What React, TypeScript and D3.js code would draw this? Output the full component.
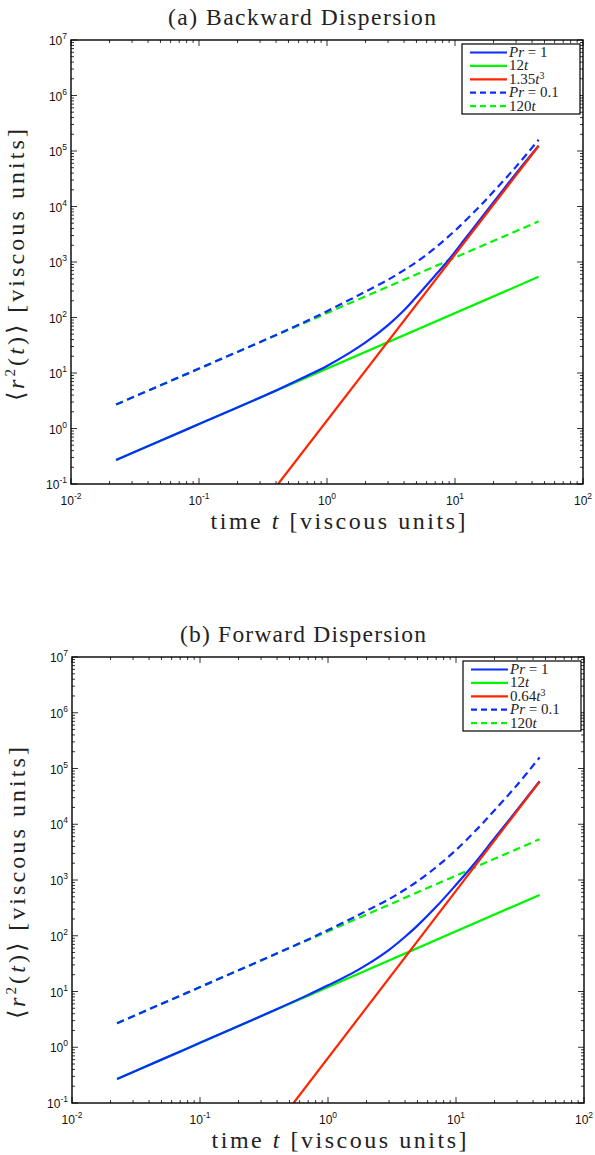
import React from 'react';
import * as d3 from 'd3';

const W = 595;
const H = 1155;

// axis domains
const xDomain = [0.01, 100];
const yDomain = [0.1, 1e7];
const xTickExps = [-2, -1, 0, 1, 2];
const yTickExps = [-1, 0, 1, 2, 3, 4, 5, 6, 7];

// reference power-law lines (endpoints, straight in log-log)
const line12t: [number, number][] = [[0.0225, 0.27], [45, 540]];
const line120t: [number, number][] = [[0.0225, 2.7], [45, 5400]];
const redA: [number, number][] = [[0.415, 0.1], [45, 123000]];
const redB: [number, number][] = [[0.538, 0.1], [45, 58300]];

// Pr = 1 (solid blue), panel a
const prOneTA = [0.0225, 0.05, 0.1, 0.2, 0.4, 0.7, 1, 1.5, 2, 3, 4, 5, 7, 9, 12, 16, 22, 30, 45];
const prOneVA = [0.27, 0.6, 1.2, 2.4, 4.85, 8.9, 13.4, 23, 35.5, 73, 135, 237, 570, 1120, 2620, 6150, 15800, 39500, 125000];
// Pr = 0.1 (dashed blue), panel a
const prTenthTA = [0.0225, 0.05, 0.1, 0.2, 0.4, 0.7, 1, 1.5, 2, 3, 4, 5, 7, 10, 15, 20, 30, 45];
const prTenthVA = [2.7, 6, 12, 24, 48.5, 87, 130, 208, 293, 480, 715, 1000, 1800, 3680, 9200, 18600, 52300, 159000];

// Pr = 1 (solid blue), panel b
const prOneTB = [0.0225, 0.05, 0.1, 0.2, 0.4, 0.7, 1, 1.5, 2, 3, 4, 5, 7, 10, 14, 20, 30, 45];
const prOneVB = [0.27, 0.6, 1.2, 2.4, 4.85, 8.7, 12.9, 20.5, 30, 56, 96, 152, 330, 820, 2000, 5600, 18000, 59000];
// Pr = 0.1 (dashed blue), panel b
const prTenthTB = [0.0225, 0.05, 0.1, 0.2, 0.4, 0.7, 1, 1.5, 2, 3, 4, 5, 7, 10, 15, 20, 30, 45];
const prTenthVB = [2.7, 6, 12, 24, 48.5, 86, 127, 200, 280, 455, 675, 945, 1700, 3450, 8700, 17800, 50500, 158000];

const BLUE = '#0b2dff';
const GREEN = '#00f500';
const RED = '#ff2400';
const DASH = '7.5 4.5';

type Pt = [number, number];
const zip = (t: number[], v: number[]): Pt[] => t.map((d, i) => [d, v[i]]);

interface PanelProps {
  left: number;
  right: number;
  top: number;
  bottom: number;
  title: string;
  titleY: number;
  redLabel: string;
  red: Pt[];
  prOne: Pt[];
  prTenth: Pt[];
  id: string;
}

function Panel(p: PanelProps) {
  const x = d3.scaleLog().domain(xDomain).range([p.left, p.right]);
  const y = d3.scaleLog().domain(yDomain).range([p.bottom, p.top]);
  const line = d3
    .line<Pt>()
    .x((d) => x(d[0]))
    .y((d) => y(d[1]))
    .curve(d3.curveCatmullRom.alpha(0.5));

  const xMinor: number[] = [];
  for (let e = -2; e < 2; e++) for (let m = 2; m <= 9; m++) xMinor.push(m * Math.pow(10, e));
  const yMinor: number[] = [];
  for (let e = -1; e < 7; e++) for (let m = 2; m <= 9; m++) yMinor.push(m * Math.pow(10, e));

  const majL = 6;
  const minL = 3;
  const tickStroke = { stroke: '#000', strokeWidth: 0.8 };

  const cy = (p.top + p.bottom) / 2;

  // legend geometry
  const lgL = p.right - 121;
  const lgR = p.right - 3;
  const lgT = p.top + 4;
  const lgH = 70;
  const rowH = 13.4;
  const rows = [
    { color: BLUE, dash: false, kind: 'pr1' },
    { color: GREEN, dash: false, kind: '12t' },
    { color: RED, dash: false, kind: 'red' },
    { color: BLUE, dash: true, kind: 'pr01' },
    { color: GREEN, dash: true, kind: '120t' },
  ];

  const legendText = (kind: string) => {
    if (kind === 'pr1')
      return (
        <>
          <tspan fontStyle="italic">Pr</tspan>
          <tspan> = 1</tspan>
        </>
      );
    if (kind === '12t')
      return (
        <>
          <tspan>12</tspan>
          <tspan fontStyle="italic">t</tspan>
        </>
      );
    if (kind === 'red')
      return (
        <>
          <tspan>{p.redLabel}</tspan>
          <tspan fontStyle="italic">t</tspan>
          <tspan dy={-5} fontSize={10}>3</tspan>
        </>
      );
    if (kind === 'pr01')
      return (
        <>
          <tspan fontStyle="italic">Pr</tspan>
          <tspan> = 0.1</tspan>
        </>
      );
    return (
      <>
        <tspan>120</tspan>
        <tspan fontStyle="italic">t</tspan>
      </>
    );
  };

  return (
    <g>
      <defs>
        <clipPath id={`clip-${p.id}`}>
          <rect x={p.left} y={p.top} width={p.right - p.left} height={p.bottom - p.top} />
        </clipPath>
      </defs>
      <text
        x={p.left + 231}
        y={p.titleY}
        textAnchor="middle"
        fontFamily="'Liberation Serif', serif"
        fontSize={23.5}
        fill="#222"
        textLength={p.id === 'a' ? 268 : 246}
        lengthAdjust="spacing"
      >
        {p.title}
      </text>

      {/* minor ticks */}
      {xMinor.map((v, i) => (
        <g key={`xm${i}`}>
          <line x1={x(v)} x2={x(v)} y1={p.bottom} y2={p.bottom - minL} {...tickStroke} />
          <line x1={x(v)} x2={x(v)} y1={p.top} y2={p.top + minL} {...tickStroke} />
        </g>
      ))}
      {yMinor.map((v, i) => (
        <g key={`ym${i}`}>
          <line x1={p.left} x2={p.left + minL} y1={y(v)} y2={y(v)} {...tickStroke} />
          <line x1={p.right} x2={p.right - minL} y1={y(v)} y2={y(v)} {...tickStroke} />
        </g>
      ))}
      {/* major ticks */}
      {xTickExps.map((e) => {
        const v = Math.pow(10, e);
        return (
          <g key={`xM${e}`}>
            <line x1={x(v)} x2={x(v)} y1={p.bottom} y2={p.bottom - majL} {...tickStroke} />
            <line x1={x(v)} x2={x(v)} y1={p.top} y2={p.top + majL} {...tickStroke} />
            <text
              x={x(v)}
              y={p.bottom + 21}
              textAnchor="middle"
              fontFamily="'Liberation Sans', Arial, sans-serif"
              fontSize={12}
              fill="#111"
            >
              10
              <tspan dy={-6} fontSize={8.5}>
                {e < 0 ? `-${-e}` : `${e}`}
              </tspan>
            </text>
          </g>
        );
      })}
      {yTickExps.map((e) => {
        const v = Math.pow(10, e);
        return (
          <g key={`yM${e}`}>
            <line x1={p.left} x2={p.left + majL} y1={y(v)} y2={y(v)} {...tickStroke} />
            <line x1={p.right} x2={p.right - majL} y1={y(v)} y2={y(v)} {...tickStroke} />
            <text
              x={p.left - 4}
              y={y(v) + 5}
              textAnchor="end"
              fontFamily="'Liberation Sans', Arial, sans-serif"
              fontSize={12}
              fill="#111"
            >
              10
              <tspan dy={-6} fontSize={8.5}>
                {e < 0 ? `-${-e}` : `${e}`}
              </tspan>
            </text>
          </g>
        );
      })}

      {/* curves */}
      <g clipPath={`url(#clip-${p.id})`} fill="none" strokeWidth={2.2}>
        <path d={line(line12t) || ''} stroke={GREEN} />
        <path d={line(line120t) || ''} stroke={GREEN} strokeDasharray={DASH} />
        <path d={line(p.prTenth) || ''} stroke={BLUE} strokeDasharray={DASH} />
        <path d={line(p.prOne) || ''} stroke={BLUE} />
        <path d={line(p.red) || ''} stroke={RED} />
      </g>

      {/* axes box */}
      <rect
        x={p.left}
        y={p.top}
        width={p.right - p.left}
        height={p.bottom - p.top}
        fill="none"
        stroke="#000"
        strokeWidth={1.4}
      />

      {/* legend */}
      <rect x={lgL} y={lgT} width={lgR - lgL} height={lgH} fill="#fff" stroke="#000" strokeWidth={1.2} />
      {rows.map((r, i) => {
        const ry = lgT + 8.5 + i * rowH;
        return (
          <g key={`lg${i}`}>
            <line
              x1={lgL + 8}
              x2={lgL + 45}
              y1={ry}
              y2={ry}
              stroke={r.color}
              strokeWidth={2.2}
              strokeDasharray={r.dash ? '6 4' : undefined}
            />
            <text
              x={lgL + 47}
              y={ry + 4.5}
              fontFamily="'Liberation Serif', serif"
              fontSize={15}
              fill="#222"
            >
              {legendText(r.kind)}
            </text>
          </g>
        );
      })}

      {/* axis labels */}
      <text
        x={p.left + 267}
        y={p.bottom + 45}
        textAnchor="middle"
        fontFamily="'Liberation Serif', serif"
        fontSize={24}
        fill="#222"
        textLength={255}
        lengthAdjust="spacing"
      >
        time <tspan fontStyle="italic">t</tspan> [viscous units]
      </text>
      <text
        transform={`translate(${p.left - 47},${cy + 3}) rotate(-90)`}
        textAnchor="middle"
        fontFamily="'Liberation Serif', serif"
        fontSize={24}
        fill="#222"
        textLength={272}
        lengthAdjust="spacing"
      >
        ⟨<tspan fontStyle="italic">r</tspan>
        <tspan dy={-9} fontSize={15}>2</tspan>
        <tspan dy={9}>(</tspan>
        <tspan fontStyle="italic">t</tspan>)⟩ [viscous units]
      </text>
    </g>
  );
}

export default function App() {
  return (
    <svg
      width={W}
      height={H}
      viewBox={`0 0 ${W} ${H}`}
      style={{ position: 'absolute', left: 0, top: 0, background: '#fff' }}
    >
      <rect width={W} height={H} fill="#fff" />
      <Panel
        id="a"
        left={71}
        right={583}
        top={40}
        bottom={484}
        title="(a) Backward Dispersion"
        titleY={25}
        redLabel="1.35"
        red={redA}
        prOne={zip(prOneTA, prOneVA)}
        prTenth={zip(prTenthTA, prTenthVA)}
      />
      <Panel
        id="b"
        left={72}
        right={584}
        top={657}
        bottom={1103}
        title="(b) Forward Dispersion"
        titleY={642}
        redLabel="0.64"
        red={redB}
        prOne={zip(prOneTB, prOneVB)}
        prTenth={zip(prTenthTB, prTenthVB)}
      />
    </svg>
  );
}
